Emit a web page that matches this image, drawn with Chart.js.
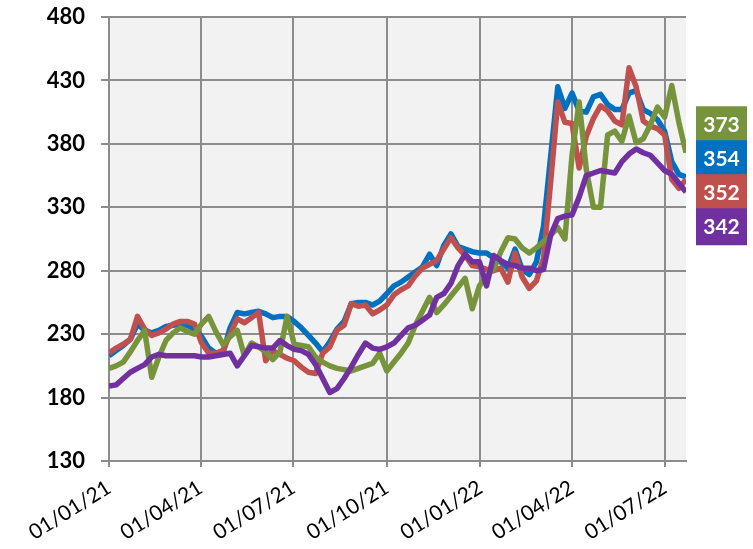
<!DOCTYPE html>
<html>
<head>
<meta charset="utf-8">
<script src="https://cdn.jsdelivr.net/npm/chart.js@4.4.0/dist/chart.umd.min.js"></script>
<style>
  html, body { margin: 0; padding: 0; background: #fff; }
</style>
</head>
<body>
<canvas id="priceChart" width="753" height="549"></canvas>
<script>
// weekly values, first week = 01/01/21
const blue = [213, 217, 221, 226, 238, 233, 231, 233, 236, 237, 238, 237, 234, 228, 219, 215, 215, 235, 247, 246,
  247, 248, 246, 243, 244, 244, 240, 235, 229, 223, 216, 224, 234, 240, 254, 255, 255, 253, 256, 262,
  268, 271, 275, 279, 283, 293, 284, 300, 309, 299, 297, 295, 294, 294, 290, 287, 282, 297, 281, 277,
  287, 315, 370, 425, 408, 420, 406, 405, 417, 419, 411, 407, 407, 420, 422, 407, 404, 399, 390, 366,
  356, 354];
const red = [215, 219, 222, 226, 244, 234, 229, 231, 234, 238, 240, 240, 238, 223, 215, 215, 217, 230, 242, 239,
  243, 247, 209, 217, 214, 211, 209, 204, 200, 199, 215, 220, 233, 237, 254, 252, 253, 246, 249, 253,
  261, 265, 268, 276, 282, 285, 288, 297, 306, 298, 292, 284, 283, 281, 280, 282, 271, 294, 275, 266,
  272, 290, 350, 413, 397, 396, 361, 386, 400, 410, 406, 398, 395, 440, 425, 398, 394, 392, 387, 352,
  345, 352];
const green = [203, 205, 208, 216, 225, 233, 196, 212, 225, 231, 235, 232, 230, 238, 244, 232, 222, 228, 233, 213,
  223, 220, 216, 210, 216, 244, 222, 221, 220, 212, 208, 205, 203, 202, 201, 203, 205, 207, 215, 201,
  208, 215, 223, 237, 248, 259, 247, 253, 260, 267, 274, 250, 268, 276, 281, 295, 306, 305, 298, 294,
  298, 303, 308, 314, 305, 371, 413, 360, 330, 330, 387, 390, 382, 402, 381, 384, 395, 409, 401, 426,
  397, 373];
const purple = [189, 190, 195, 200, 203, 206, 212, 214, 213, 213, 213, 213, 213, 212, 212, 213, 214, 215, 205, 213,
  221, 220, 219, 219, 225, 221, 218, 217, 214, 206, 195, 184, 187, 195, 204, 214, 223, 219, 218, 220,
  223, 229, 235, 237, 241, 245, 259, 262, 270, 284, 293, 287, 287, 268, 292, 288, 285, 284, 282, 282,
  280, 281, 308, 321, 323, 324, 338, 355, 357, 359, 358, 357, 366, 372, 376, 373, 371, 365, 359, 356,
  349, 342];

// days since 01/01/21 for the axis ticks
const tickDays = [0, 90, 181, 273, 365, 455, 546];
const tickLabels = ["01/01/21", "01/04/21", "01/07/21", "01/10/21", "01/01/22", "01/04/22", "01/07/22"];

const gridColor = "#8c8c8c";
const colors = { blue: "#0070c0", red: "#c0504d", green: "#77933c", purple: "#7030a0" };

function toPoints(values) {
    return values.map((v, i) => ({ x: i * 7, y: v }));
}

// grey plot background
const plotBackground = {
    id: "plotBackground",
    beforeDraw(chart) {
        const { ctx, chartArea: a } = chart;
        ctx.save();
        ctx.fillStyle = "#f2f2f2";
        ctx.fillRect(a.left, a.top, a.right - a.left, a.bottom - a.top);
        ctx.restore();
    }
};

// coloured boxes with the last value of each series
const endLabels = {
    id: "endLabels",
    afterDatasetsDraw(chart) {
        const { ctx, chartArea: a } = chart;
        const yScale = chart.scales.y;
        const gap = 34;
        const items = chart.data.datasets.map(ds => {
            const last = ds.data[ds.data.length - 1].y;
            return { value: last, color: ds.borderColor, y: yScale.getPixelForValue(last) };
        }).sort((p, q) => p.y - q.y);
        for (let k = 0; k < 100; k++) {
            for (let i = 1; i < items.length; i++) {
                const d = items[i].y - items[i - 1].y;
                if (d < gap) {
                    const push = (gap - d) / 2;
                    items[i].y += push;
                    items[i - 1].y -= push;
                }
            }
        }
        ctx.save();
        ctx.font = "bold 21px Lato";
        ctx.textAlign = "center";
        ctx.textBaseline = "middle";
        items.forEach(it => {
            ctx.fillStyle = it.color;
            ctx.fillRect(a.right + 10, it.y - 18, 51, 37);
            ctx.fillStyle = "#fff";
            ctx.fillText(String(it.value), a.right + 10 + 25.5, it.y + 1);
        });
        ctx.restore();
    }
};

const ctx = document.getElementById("priceChart").getContext("2d");
new Chart(ctx, {
    type: "line",
    data: {
        datasets: [
            { label: "purple", data: toPoints(purple), borderColor: colors.purple },
            { label: "green", data: toPoints(green), borderColor: colors.green },
            { label: "red", data: toPoints(red), borderColor: colors.red },
            { label: "blue", data: toPoints(blue), borderColor: colors.blue }
        ].map(ds => Object.assign(ds, {
            borderWidth: 5.5,
            pointRadius: 0,
            tension: 0,
            fill: false,
            borderJoinStyle: "round"
        }))
    },
    options: {
        responsive: false,
        animation: false,
        layout: { padding: { top: 17, right: 67, bottom: 0, left: 0 } },
        plugins: {
            legend: { display: false },
            tooltip: { enabled: false }
        },
        scales: {
            x: {
                type: "linear",
                min: 0,
                max: 567,
                afterBuildTicks: scale => { scale.ticks = tickDays.map(v => ({ value: v })); },
                afterFit: scale => { scale.height = 88; },
                ticks: {
                    autoSkip: false,
                    minRotation: 32,
                    maxRotation: 32,
                    padding: 8,
                    color: "#000",
                    font: { family: "Lato", size: 21 },
                    callback: (v, i) => tickLabels[i]
                },
                grid: { color: gridColor, lineWidth: 2, tickLength: 6 },
                border: { color: gridColor, width: 2 }
            },
            y: {
                min: 130,
                max: 480,
                afterFit: scale => {
                    scale.width = 109;
                    scale.paddingTop = 0;
                    scale.paddingBottom = 0;
                },
                ticks: {
                    stepSize: 50,
                    padding: 16,
                    color: "#000",
                    font: { family: "Lato", size: 22, weight: "bold" }
                },
                grid: { color: gridColor, lineWidth: 2, tickLength: 8 },
                border: { color: gridColor, width: 2 }
            }
        }
    },
    plugins: [plotBackground, endLabels]
});
</script>
</body>
</html>
